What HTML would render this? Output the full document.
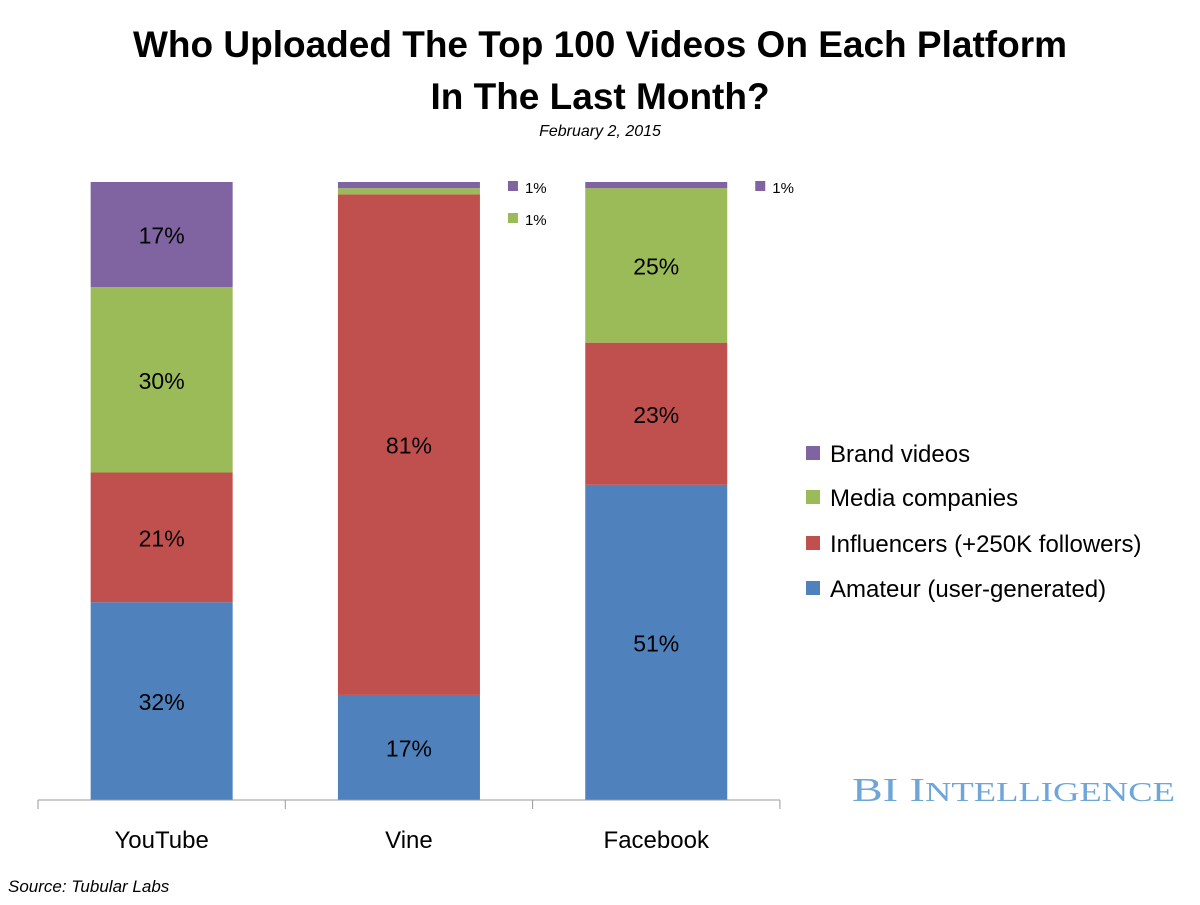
<!DOCTYPE html>
<html><head><meta charset="utf-8"><style>
body{margin:0;background:#fff;font-family:"Liberation Sans",sans-serif}
svg text{font-family:"Liberation Sans",sans-serif}
</style></head><body>
<svg width="1200" height="900">
<text x="600" y="57" text-anchor="middle" font-size="37" font-weight="bold">Who Uploaded The Top 100 Videos On Each Platform</text>
<text x="600" y="109" text-anchor="middle" font-size="37" font-weight="bold">In The Last Month?</text>
<text x="600" y="136" text-anchor="middle" font-size="16" font-style="italic">February 2, 2015</text>
<g id="plot"></g>
<line x1="38" y1="800" x2="780" y2="800" stroke="#999"/>
<g id="legend"></g>
<text x="852" y="801" textLength="323" lengthAdjust="spacingAndGlyphs" font-size="34" fill="#6fa6d8" style="font-family:'Liberation Serif',serif">BI I<tspan font-size="27">NTELLIGENCE</tspan></text>
<text x="8" y="892" font-size="17" font-style="italic">Source: Tubular Labs</text>
</svg>
<script>
const categories=["YouTube","Vine","Facebook"];
const seriesNames=["Amateur (user-generated)","Influencers (+250K followers)","Media companies","Brand videos"];
const colors=["#4f81bd","#c0504d","#9bbb59","#8064a2"];
const amateur=[32,17,51];
const influencers=[21,81,23];
const media=[30,1,25];
const brand=[17,1,1];
const series=[amateur,influencers,media,brand];
const NS="http://www.w3.org/2000/svg";
const plot=document.getElementById('plot');
const y0=800,y1=182;
const yScale=v=>y0-(v/100)*(y0-y1);
const xLeft=38,band=247.3,barW=142;
const xBand=i=>xLeft+i*band+(band-barW)/2;
function mk(tag,attrs,parent){const e=document.createElementNS(NS,tag);for(const k in attrs)e.setAttribute(k,attrs[k]);parent.appendChild(e);return e;}
categories.forEach((c,i)=>{
  let cum=0;
  series.forEach((s,j)=>{
    const v=s[i];const top=yScale(cum+v),bot=yScale(cum);
    const r=mk('rect',{x:xBand(i),y:top,width:barW,height:bot-top,fill:colors[j]},plot);
    
    
    if(v>=5){
      const t=mk('text',{x:xBand(i)+barW/2,y:(top+bot)/2+9,'text-anchor':'middle','font-size':23},plot);
      t.textContent=v+'%';
      
      
    }
    cum+=v;
  });
  const tk=mk('line',{x1:xLeft+i*band,y1:800,x2:xLeft+i*band,y2:809,stroke:'#999'},plot);
  
  
  const lb=mk('text',{x:xLeft+i*band+band/2,y:848,'text-anchor':'middle','font-size':24},plot);
  lb.textContent=c;
  
  
});
const tk3=mk('line',{x1:xLeft+3*band,y1:800,x2:xLeft+3*band,y2:809,stroke:'#999'},plot);


const callouts=[[1,3,187],[1,2,219],[2,3,187]];
callouts.forEach(([i,j,y])=>{
  const x=xBand(i)+barW+28;
  const r=mk('rect',{x:x,y:y-6,width:10,height:10,fill:colors[j]},plot);
  
  
  const t=mk('text',{x:x+17,y:y+6,'font-size':15},plot);
  t.textContent=series[j][i]+'%';
  
  
});
const leg=document.getElementById('legend');
const ly=[590,545,499,455];
seriesNames.forEach((n,j)=>{
  const r=mk('rect',{x:806,y:ly[j]-9,width:14,height:14,fill:colors[j]},leg);
  
  
  const t=mk('text',{x:830,y:ly[j]+7,'font-size':24},leg);
  t.textContent=n;
  
  
});
</script>
</body></html>
